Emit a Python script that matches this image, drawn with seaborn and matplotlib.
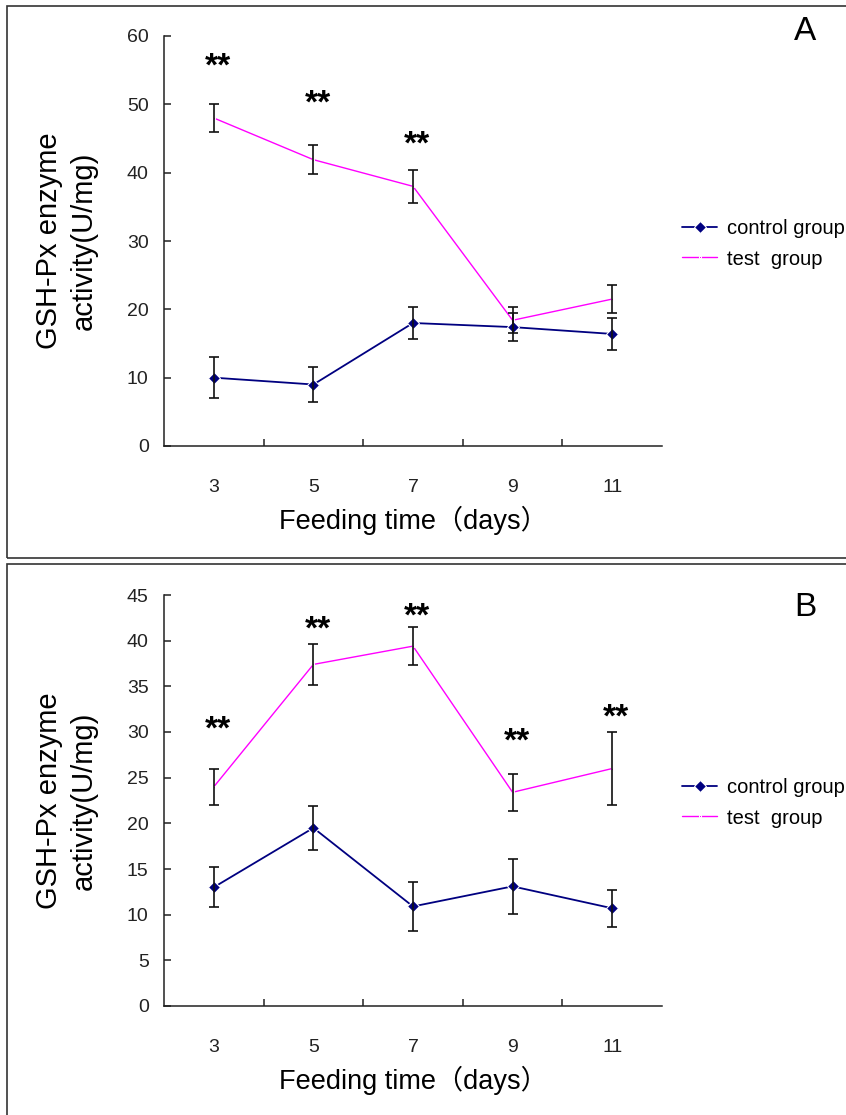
import numpy as np
import pandas as pd
import matplotlib
matplotlib.use("Agg")
import matplotlib.pyplot as plt
import matplotlib.patches as mpatches
import seaborn as sns

# ── Data ──────────────────────────────────────────────────────────────────────
days = ["3", "5", "7", "9", "11"]

a_control = [10.0, 9.0, 18.0, 17.4, 16.4]
a_control_err = [3.0, 2.5, 2.4, 2.0, 2.4]
a_test = [48.0, 41.9, 38.0, 18.4, 21.5]
a_test_err = [2.0, 2.1, 2.4, 1.9, 2.0]
a_star_y = [56.4, 51.0, 45.0, None, None]

b_control = [13.0, 19.5, 10.9, 13.1, 10.7]
b_control_err = [2.2, 2.4, 2.7, 3.0, 2.0]
b_test = [24.0, 37.4, 39.4, 23.4, 26.0]
b_test_err = [2.0, 2.2, 2.05, 2.0, 4.0]
b_star_y = [30.9, 41.9, 43.3, 29.6, 32.3]

# ── Style ─────────────────────────────────────────────────────────────────────
sns.set_theme(style="ticks")
plt.rcParams.update({
    "font.family": ["Liberation Sans", "Noto Sans CJK SC", "DejaVu Sans"],
    "axes.edgecolor": "#222222",
    "axes.linewidth": 1.1,
    "xtick.color": "#222222",
    "ytick.color": "#222222",
    "text.color": "black",
})

NAVY = "#000080"
MAGENTA = "#FF00FF"
W, H = 846, 1115

fig = plt.figure(figsize=(W / 100, H / 100), dpi=100)

# panel frames
fig.patches.append(mpatches.Rectangle((7 / W, 1 - 558 / H), 1.0, 552 / H,
                                      transform=fig.transFigure, fill=False,
                                      edgecolor="#333333", linewidth=1.2))
fig.patches.append(mpatches.Rectangle((7 / W, -0.05), 1.0, 1 - 564 / H + 0.05,
                                      transform=fig.transFigure, fill=False,
                                      edgecolor="#333333", linewidth=1.2))


def draw_panel(rect, control, control_err, test, test_err, star_y, ymax, ystep,
               letter, legend_y, xlabel_y):
    ax = fig.add_axes(rect)
    pos = np.arange(len(days))
    df = pd.DataFrame({"pos": np.concatenate([pos, pos]),
                       "val": control + test,
                       "group": ["control group"] * len(days) + ["test  group"] * len(days)})
    sns.lineplot(data=df, x="pos", y="val", hue="group", style="group",
                 palette={"control group": NAVY, "test  group": MAGENTA},
                 markers={"control group": "D", "test  group": "s"},
                 dashes=False, markersize=6, ax=ax, zorder=3)
    for line in ax.lines:
        if line.get_color().lower() == MAGENTA.lower():
            line.set_linewidth(1.0)
            line.set_markersize(2)
        else:
            line.set_linewidth(1.3)
    ax.errorbar(pos, control, yerr=control_err, fmt="none", ecolor="#111111",
                elinewidth=1.2, capsize=3.6, capthick=1.2, zorder=4)
    ax.errorbar(pos, test, yerr=test_err, fmt="none", ecolor="#111111",
                elinewidth=1.2, capsize=3.6, capthick=1.2, zorder=4)

    # significance marks
    for p, sy in zip(pos, star_y):
        if sy is None:
            continue
        ax.annotate("**", xy=(p, sy), xytext=(3, -11), textcoords="offset points",
                    ha="center", va="baseline", fontsize=24, fontweight="bold")

    ax.set_xlim(-0.5, len(days) - 0.5)
    ax.set_ylim(0, ymax)
    ax.set_yticks(np.arange(0, ymax + 0.1, ystep))
    ax.set_xticks(pos[:-1] + 0.5)
    ax.set_xticklabels([])
    ax.set_xticks(pos, minor=True)
    ax.set_xticklabels(days, minor=True)
    ax.tick_params(axis="x", which="major", direction="in", length=5, width=1.1)
    ax.tick_params(axis="x", which="minor", length=0, pad=24, labelsize=14)
    ax.tick_params(axis="y", direction="in", length=5, width=1.1, pad=11, labelsize=14)
    ax.set_xlabel("")
    ax.set_ylabel("")
    sns.despine(ax=ax)

    handles, labels = ax.get_legend_handles_labels()
    ax.legend(handles, labels, loc="center left", frameon=False,
              bbox_to_anchor=(682 / W, 1 - legend_y / H), bbox_transform=fig.transFigure,
              borderaxespad=0, borderpad=0, fontsize=14.5, handlelength=1.75,
              handletextpad=0.5, labelspacing=0.55)

    bb = ax.get_position()
    fig.text(66 / W, (bb.y0 + bb.y1) / 2, "GSH-Px enzyme\nactivity(U/mg)",
             rotation=90, ha="center", va="center", multialignment="center",
             fontsize=21, linespacing=1.3)
    fig.text((bb.x0 + bb.x1) / 2, 1 - xlabel_y / H, "Feeding time（days）",
             ha="center", va="center", fontsize=19.5)
    fig.text(805 / W, 1 - (letter[1]) / H, letter[0], ha="center", va="center", fontsize=24)
    return ax


draw_panel([164 / W, 1 - 446 / H, 498 / W, 410 / H],
           a_control, a_control_err, a_test, a_test_err, a_star_y, 60, 10,
           ("A", 32), 244, 520)
draw_panel([164 / W, 1 - 1006 / H, 498 / W, 411 / H],
           b_control, b_control_err, b_test, b_test_err, b_star_y, 45, 5,
           ("B", 608), 803, 1080)

fig.savefig("out.png", dpi=100)
